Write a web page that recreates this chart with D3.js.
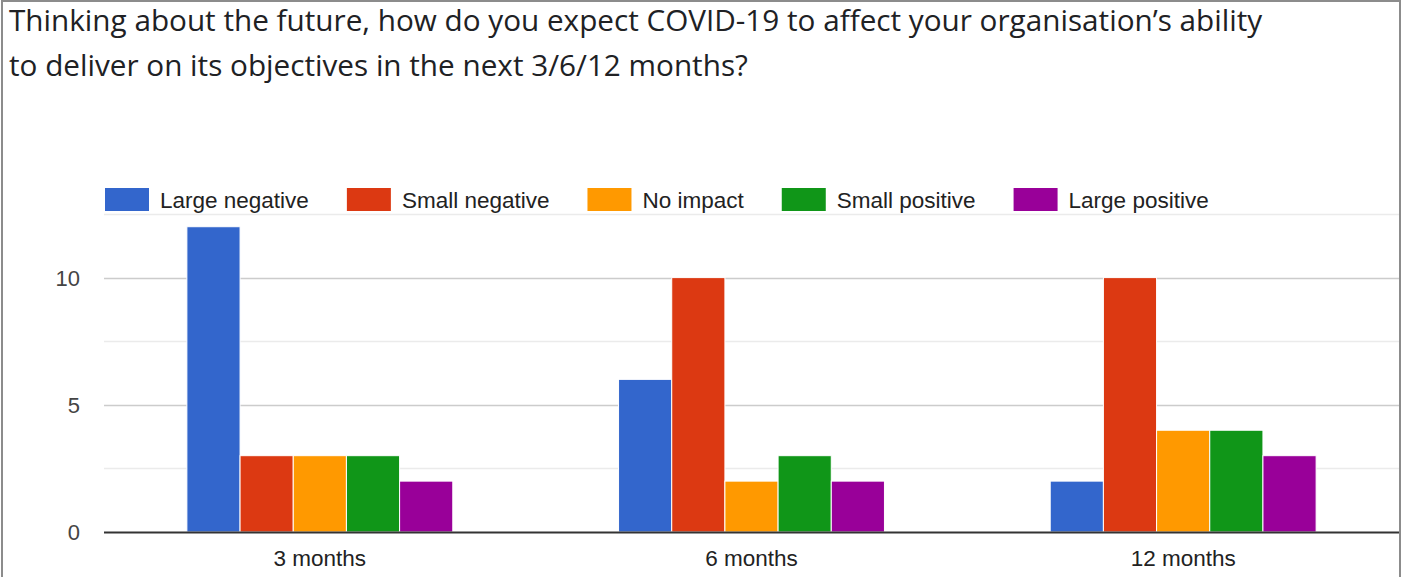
<!DOCTYPE html>
<html>
<head>
<meta charset="utf-8">
<script src="https://cdn.jsdelivr.net/npm/d3@7"></script>
<style>
  body { margin: 0; background: #fff; }
  svg { display: block; }
  .title { font-family: "Open Sans", Roboto, sans-serif; font-size: 29.7px; fill: #202124; }
  .lbl { font-family: "Liberation Sans", Arial, sans-serif; font-size: 22.5px; fill: #222; }
  .tick-lbl { font-family: "Liberation Sans", Arial, sans-serif; font-size: 22px; fill: #444; }
</style>
</head>
<body>
<div id="chart"></div>
<script>
var titleLines = [
  "Thinking about the future, how do you expect COVID-19 to affect your organisation\u2019s ability",
  "to deliver on its objectives in the next 3/6/12 months?"
];
var categories = ["3 months", "6 months", "12 months"];
var seriesNames = ["Large negative", "Small negative", "No impact", "Small positive", "Large positive"];
var colors = ["#3366cc", "#dc3912", "#ff9900", "#109618", "#990099"];
// one row per category, one value per series
var values = [
  [12, 3, 3, 3, 2],
  [6, 10, 2, 3, 2],
  [2, 10, 4, 4, 3]
];
var yTicks = [0, 5, 10];
var gridTicks = [0, 2.5, 5, 7.5, 10, 12.5];

var width = 1405, height = 577;
var plotLeft = 104, plotRight = 1399, plotTop = 214, plotBottom = 532;

var svg = d3.select("#chart").append("svg")
    .attr("width", width)
    .attr("height", height);

// frame
svg.append("rect")
    .attr("x", 2).attr("y", 1)
    .attr("width", 1398).attr("height", 590)
    .attr("fill", "none")
    .attr("stroke", "#8c8c8c")
    .attr("stroke-width", 2);

// title
svg.selectAll(".title")
    .data(titleLines)
    .enter().append("text")
    .attr("class", "title")
    .attr("x", 9)
    .attr("y", function(d, i) { return 31 + i * 45; })
    .text(function(d) { return d; });

var x0 = d3.scaleBand()
    .domain(categories)
    .range([plotLeft, plotRight])
    .paddingInner(0.384)
    .paddingOuter(0.192);

var x1 = d3.scaleBand()
    .domain(seriesNames)
    .range([0, x0.bandwidth()])
    .paddingInner(0.0);

var y = d3.scaleLinear()
    .domain([0, 12.5])
    .range([plotBottom, plotTop]);

// gridlines
svg.append("g").selectAll("line")
    .data(gridTicks.slice(1))
    .enter().append("line")
    .attr("x1", plotLeft).attr("x2", plotRight)
    .attr("y1", function(d) { return Math.round(y(d)) + 0.5; })
    .attr("y2", function(d) { return Math.round(y(d)) + 0.5; })
    .attr("stroke", function(d) { return d % 5 === 0 ? "#cccccc" : "#ebebeb"; })
    .attr("stroke-width", 1.5);

// y tick labels
svg.append("g").selectAll("text")
    .data(yTicks)
    .enter().append("text")
    .attr("class", "tick-lbl")
    .attr("x", 80)
    .attr("y", function(d) { return y(d) + 8; })
    .attr("text-anchor", "end")
    .text(function(d) { return d; });

// bars
var groups = svg.append("g").selectAll("g")
    .data(values)
    .enter().append("g")
    .attr("transform", function(d, i) { return "translate(" + x0(categories[i]) + ",0)"; });

groups.selectAll("rect")
    .data(function(d) { return d; })
    .enter().append("rect")
    .attr("x", function(d, i) { return x1(seriesNames[i]); })
    .attr("y", function(d) { return y(d); })
    .attr("width", x1.bandwidth())
    .attr("height", function(d) { return y(0) - y(d); })
    .attr("fill", function(d, i) { return colors[i]; })
    .attr("stroke", "#fff")
    .attr("stroke-width", 1);

// baseline
svg.append("line")
    .attr("x1", plotLeft).attr("x2", plotRight)
    .attr("y1", plotBottom + 0.5).attr("y2", plotBottom + 0.5)
    .attr("stroke", "#333")
    .attr("stroke-width", 2);

// x axis labels
svg.append("g").selectAll("text")
    .data(categories)
    .enter().append("text")
    .attr("class", "lbl")
    .attr("x", function(d) { return x0(d) + x0.bandwidth() / 2; })
    .attr("y", 566)
    .attr("text-anchor", "middle")
    .text(function(d) { return d; });

// legend
var legend = svg.append("g");
var lx = 105;
seriesNames.forEach(function(name, i) {
  var item = legend.append("g").attr("transform", "translate(" + lx + ",0)");
  item.append("rect")
      .attr("x", 0).attr("y", 188)
      .attr("width", 44).attr("height", 23)
      .attr("fill", colors[i]);
  var t = item.append("text")
      .attr("class", "lbl")
      .attr("x", 55).attr("y", 208)
      .text(name);
  lx += 55 + t.node().getComputedTextLength() + 38;
});
</script>
</body>
</html>
